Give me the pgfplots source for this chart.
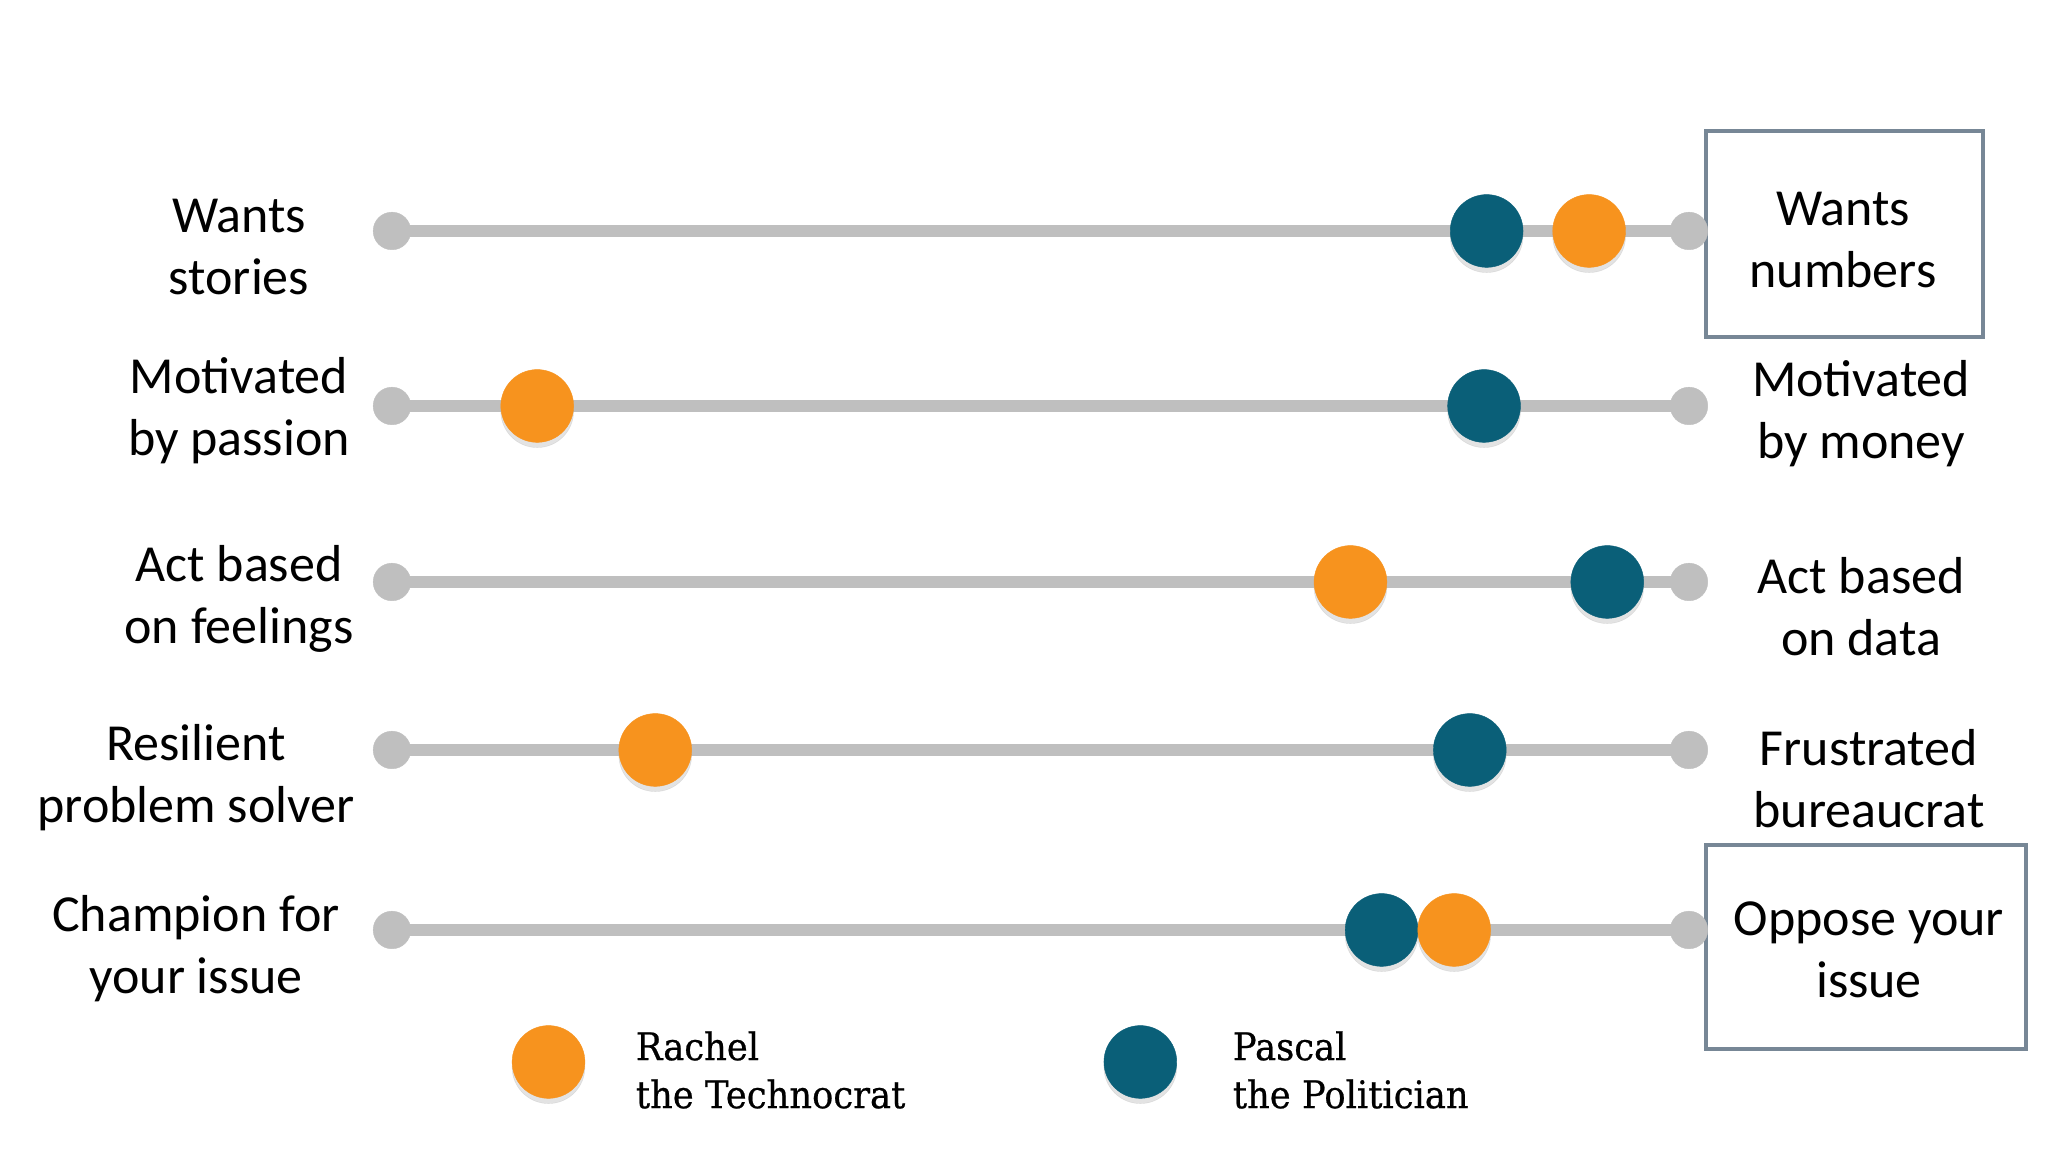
\documentclass[border=0pt]{standalone}
\usepackage{pgfplots}
\pgfplotsset{compat=1.18}
\usepackage{pgfplotstable}
\usepackage{fontspec}
\setmainfont{Carlito}
\newfontfamily\legfont[FakeStretch=0.93, FakeBold=0.6]{DejaVu Serif}
\definecolor{rachel}{HTML}{F7931E}
\definecolor{pascal}{HTML}{0A5F78}
\definecolor{track}{HTML}{BFBFBF}
\definecolor{boxc}{HTML}{778796}
\definecolor{shadow}{HTML}{B0B0B0}

% row: vertical position (pixels from bottom), values on a 0-100 scale
\pgfplotstableread{
row y rachel pascal
1 921 92.3 84.4
2 746 11.2 84.2
3 570 73.9 93.7
4 402 20.3 83.1
5 222 81.9 76.3
}\data

\tikzset{
  lab/.style={font=\fontsize{13}{15.5}\selectfont, align=center, inner sep=0pt},
  leg/.style={font=\legfont\fontsize{9.5}{12}\selectfont, align=left, anchor=west, inner sep=0pt},
}
\pgfplotsset{
  dot/.style={only marks, mark=*, mark size=9.1pt, color=#1, mark options={solid, fill=#1, draw=#1, line width=0.1pt}},
  shad/.style={only marks, mark=*, mark size=9.1pt, color=shadow, opacity=0.35, mark options={solid, fill=shadow, draw=shadow, line width=0.1pt}, yshift=-1.3pt},
}

\begin{document}
\begin{tikzpicture}
\begin{axis}[
  scale only axis, width=512pt, height=288pt,
  xmin=-30.22, xmax=127.68, ymin=0, ymax=1152,
  hide axis, clip=false,
]
\path[fill=white] (rel axis cs:0,0) rectangle (rel axis cs:1,1);
% tracks
\foreach \yy in {921,746,570,402,222}{
  \edef\temp{\noexpand\addplot[color=track, line width=3pt, mark=*, mark size=4.7pt, mark options={solid, fill=track, draw=track, line width=0.1pt}] coordinates {(0,\yy) (100,\yy)};}
  \temp
}
% shadows
\addplot[shad] table[x=pascal, y=y] {\data};
\addplot[shad] table[x=rachel, y=y] {\data};
% Pascal then Rachel
\addplot[dot=pascal] table[x=pascal, y=y] {\data};
\addplot[dot=rachel] table[x=rachel, y=y] {\data};
% legend markers
\addplot[shad] coordinates {(12.07,90) (57.7,90)};
\addplot[dot=rachel] coordinates {(12.07,90)};
\addplot[dot=pascal] coordinates {(57.7,90)};

% left labels
\node[lab] at (rel axis cs:0.1167,0.7856) {Wants\\stories};
\node[lab] at (rel axis cs:0.1167,0.6432) {Motivated\\by passion};
\node[lab] at (rel axis cs:0.1167,0.4800) {Act based\\on feelings};
\node[lab] at (rel axis cs:0.0957,0.3247) {Resilient\\problem solver};
\node[lab] at (rel axis cs:0.0957,0.1762) {Champion for\\your issue};
% right labels
\draw[boxc, line width=1pt] (rel axis cs:0.8330,0.8863) rectangle (rel axis cs:0.9683,0.7075);
\node[lab] at (rel axis cs:0.8999,0.7917) {Wants\\numbers};
\node[lab] at (rel axis cs:0.9087,0.6406) {Motivated\\by money};
\node[lab] at (rel axis cs:0.9087,0.4731) {Act based\\on data};
\node[lab] at (rel axis cs:0.9126,0.3238) {Frustrated\\bureaucrat};
\draw[boxc, line width=1pt] (rel axis cs:0.8330,0.2665) rectangle (rel axis cs:0.9893,0.0894);
\node[lab] at (rel axis cs:0.9126,0.1753) {Oppose your\\issue};
% legend text
\node[leg] at (rel axis cs:0.3101,0.0712) {Rachel\\the Technocrat};
\node[leg] at (rel axis cs:0.6016,0.0712) {Pascal\\the Politician};
\end{axis}
\end{tikzpicture}
\end{document}
